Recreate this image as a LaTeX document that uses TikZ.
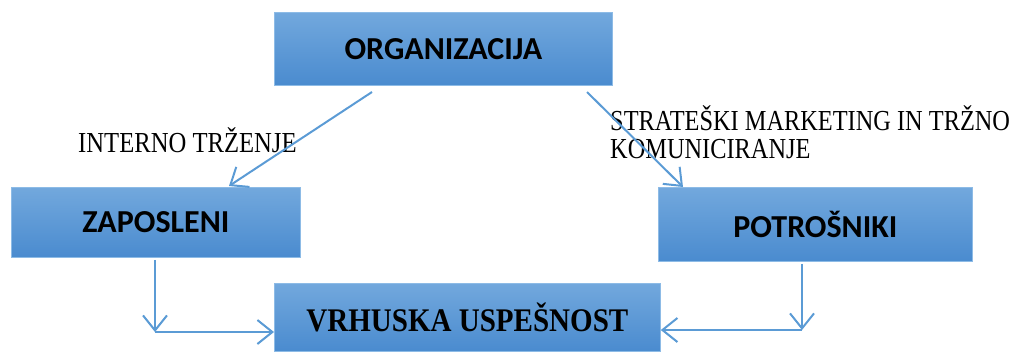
\documentclass[tikz,border=0pt]{standalone}
\usepackage{fontspec}
\usetikzlibrary{arrows.meta}
\newfontfamily\boxfont{Carlito}
\newfontfamily\seriflab[FakeStretch=0.85]{Liberation Serif}
\newfontfamily\seriflabb[FakeStretch=0.84]{Liberation Serif}
\newfontfamily\serifbox[FakeStretch=0.88]{Liberation Serif}
\definecolor{boxtop}{HTML}{72A8DD}
\definecolor{boxbot}{HTML}{4A8BCF}
\definecolor{boxedge}{HTML}{8DBBE6}
\definecolor{arrc}{HTML}{5B9BD5}
\begin{document}
\begin{tikzpicture}[x=1pt,y=-1pt,
  bx/.style={draw=boxedge, line width=0.8pt, top color=boxtop, bottom color=boxbot,
    inner sep=0pt, anchor=north west, text=black},
  boxlab/.style={font=\boxfont\bfseries\fontsize{32}{36}\selectfont},
  lab/.style={inner sep=0pt, anchor=base west, text=black},
  arr/.style={draw=arrc, line width=2pt, -{Straight Barb[length=15pt,width=24pt,line width=2pt]}},
]
\useasboundingbox (0,0) rectangle (1016,351);
\node[bx, boxlab, minimum width=338pt, minimum height=73pt] (org) at (274,12) {ORGANIZACIJA};
\node[bx, boxlab, minimum width=289pt, minimum height=70pt] (zap) at (11,187) {ZAPOSLENI};
\node[bx, boxlab, minimum width=314pt, minimum height=74pt] (pot) at (658,187) {POTROŠNIKI};
\node[bx, font=\serifbox\bfseries\fontsize{33}{36}\selectfont, minimum width=386pt, minimum height=68pt] (vrh) at (274,283) {VRHUSKA USPEŠNOST};

\node[lab, font=\seriflab\fontsize{29}{28}\selectfont] (lint) at (78,152) {INTERNO TRŽENJE};
\node[lab, font=\seriflabb\fontsize{29}{28}\selectfont] (lstr) at (610,130) {STRATEŠKI MARKETING IN TRŽNO};
\node[lab, font=\seriflabb\fontsize{29}{28}\selectfont] (lstr2) at (610,158) {KOMUNICIRANJE};

\coordinate (a1) at (372,92);
\coordinate (a2) at (229,186);
\coordinate (b1) at (587,92);
\coordinate (b2) at (683,187);
\draw[arr] (a1) -- (a2);
\draw[arr] (b1) -- (b2);

\coordinate (c1) at (155,332);
\coordinate (d1) at (802,330);
\draw[arr] ([yshift=-2pt]zap.south -| c1) -- (c1);
\draw[arr] (c1) -- (vrh.west |- c1);
\draw[arr] ([yshift=-2pt]pot.south -| d1) -- (d1);
\draw[arr] (d1) -- (vrh.east |- d1);
\end{tikzpicture}
\end{document}
